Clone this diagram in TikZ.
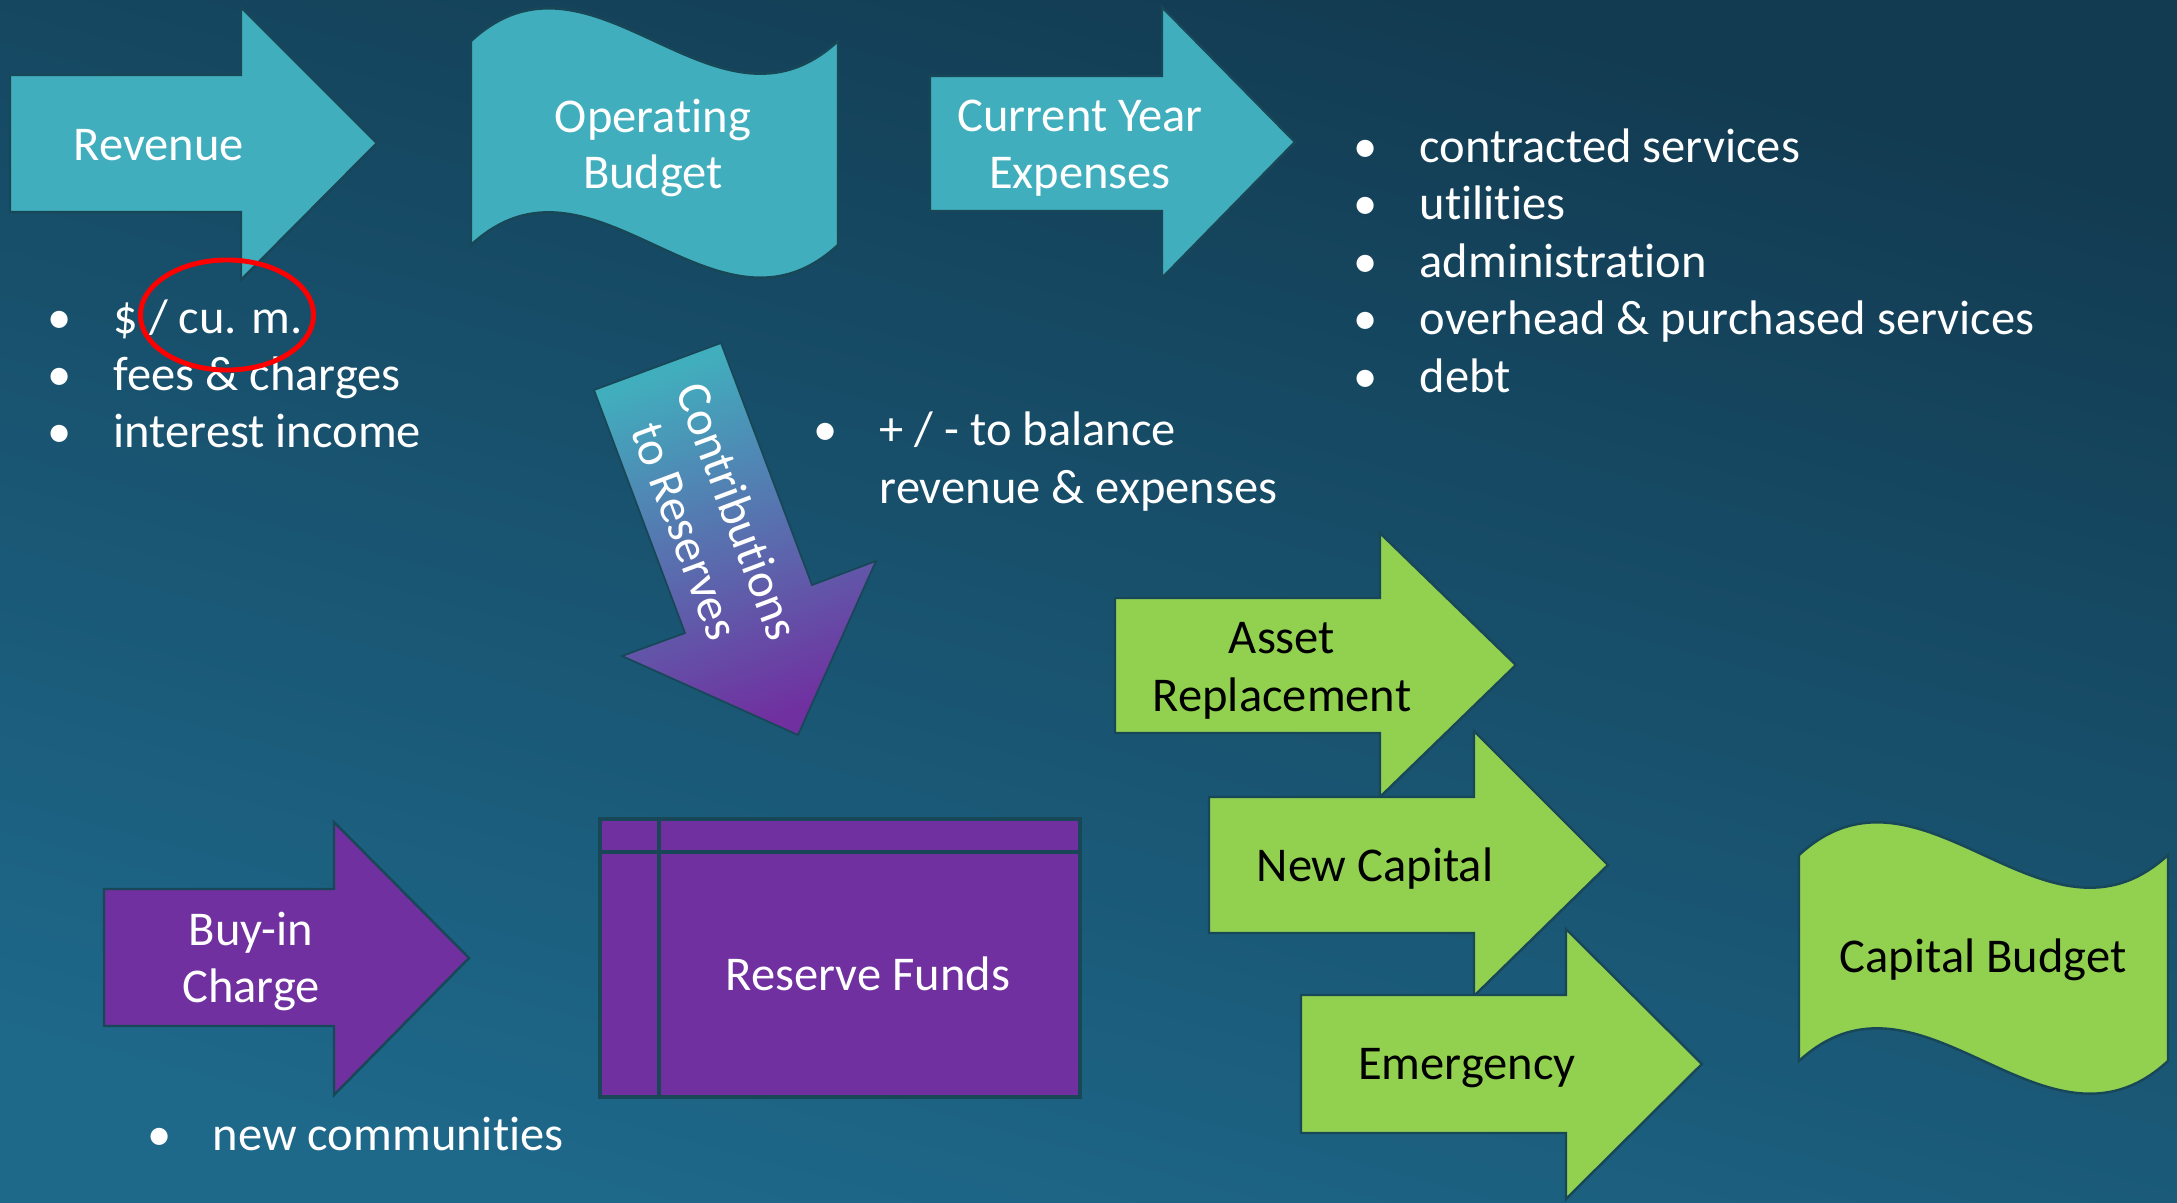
\documentclass[tikz,border=0pt]{standalone}
\usepackage{fontspec}
\setmainfont{Carlito}[Ligatures=NoCommon]
\definecolor{bgtop}{RGB}{18,58,80}
\definecolor{bgbot}{RGB}{30,104,138}
\definecolor{aquac}{RGB}{65,174,189}
\definecolor{purpc}{RGB}{112,48,160}
\definecolor{greenc}{RGB}{146,208,80}
\definecolor{edgec}{RGB}{24,72,88}
\begin{document}
\begin{tikzpicture}[x=0.01cm,y=-0.01cm,
  shp/.style={draw=edgec, line width=0.7pt, line join=miter},
  txt/.style={font=\fontsize{13.8}{16}\selectfont, inner sep=0pt, anchor=base},
  wtxt/.style={txt, text=white},
  btxt/.style={txt, text=black},
  ltxt/.style={txt, text=white, anchor=base west},
  bdot/.style={txt, text=white}]
% background
\fill[top color=bgtop, bottom color=bgbot, shading angle=-15] (0,0) rectangle (2177,1202);
\useasboundingbox (0,0) rectangle (2177,1202);

% Revenue arrow
\path[shp, fill=aquac] (10,75) -- (241,75) -- (241,7) -- (377,143) -- (241,280) -- (241,212) -- (10,212) -- cycle;
% Operating budget wave
\path[shp, fill=aquac] (471,41) .. controls (593.3,-72.3) and (715.7,154.3) .. (838,41)
  -- (838,245) .. controls (715.7,358.3) and (593.3,131.7) .. (471,245) -- cycle;
% Current year arrow
\path[shp, fill=aquac] (930,76) -- (1162,76) -- (1162,7) -- (1295,142) -- (1162,278) -- (1162,211) -- (930,211) -- cycle;

% Contributions arrow
\path[draw=edgec, line width=0.5pt, top color=aquac, bottom color=purpc, shading angle=20]
  (594,390) -- (721,343) -- (812,585) -- (876,561) -- (798,735) -- (622,656) -- (685,633) -- cycle;

% Buy-in arrow
\path[shp, fill=purpc] (104,889) -- (334,889) -- (334,822) -- (469,958) -- (334,1095) -- (334,1026) -- (104,1026) -- cycle;
% Reserve funds
\path[shp, fill=purpc, line width=0.9pt] (600,819) rectangle (1080,1097);
\draw[edgec, line width=0.9pt] (659,819) -- (659,1097);
\draw[edgec, line width=0.9pt] (600,852) -- (1080,852);

% Green arrows
\path[shp, fill=greenc] (1115,598) -- (1380,598) -- (1380,533) -- (1516,665) -- (1380,797) -- (1380,733) -- (1115,733) -- cycle;
\path[shp, fill=greenc] (1209,797) -- (1474,797) -- (1474,731) -- (1608,865) -- (1474,996) -- (1474,933) -- (1209,933) -- cycle;
\path[shp, fill=greenc] (1301,995) -- (1566,995) -- (1566,929) -- (1702,1064) -- (1566,1199) -- (1566,1133) -- (1301,1133) -- cycle;
% Capital budget wave
\path[shp, fill=greenc] (1799,855) .. controls (1922,741.7) and (2045,968.3) .. (2168,855)
  -- (2168,1061) .. controls (2045,1174.3) and (1922,947.7) .. (1799,1061) -- cycle;

% shape texts
\node[wtxt] (rev) at (159,160) {Revenue};
\node[wtxt] (op1) at (653,132) {Operating};
\node[wtxt] (op2) at (653,188) {Budget};
\node[wtxt] (cy1) at (1080,131) {Current Year};
\node[wtxt] (cy2) at (1080,188) {Expenses};
\node[txt, text=white, anchor=center, align=center, rotate=-69.5] (contrib) at (712,521) {Contributions\\to Reserves};
\node[wtxt] (buy1) at (251,945) {Buy-in};
\node[wtxt] (buy2) at (251,1002) {Charge};
\node[wtxt] (res) at (868,990) {Reserve Funds};
\node[btxt] (ar1) at (1282,653) {Asset};
\node[btxt] (ar2) at (1282,711) {Replacement};
\node[btxt] (nc) at (1375,881) {New Capital};
\node[btxt] (em) at (1467,1079) {Emergency};
\node[btxt] (cb) at (1983,972) {Capital Budget};

% left bullet list
\node[bdot] (lb1) at (60,333) {•};
\node[ltxt] (lt1) at (113,333) {\$ / cu. m.};
\node[bdot] (lb2) at (60,390) {•};
\node[ltxt] (lt2) at (113,390) {fees \& charges};
\node[bdot] (lb3) at (60,447) {•};
\node[ltxt] (lt3) at (113,447) {interest income};

% right bullet list
\node[bdot] (rb1) at (1366,162) {•};
\node[ltxt] (rt1) at (1419,162) {contracted services};
\node[bdot] (rb2) at (1366,219.5) {•};
\node[ltxt] (rt2) at (1419,219.5) {utilities};
\node[bdot] (rb3) at (1366,277) {•};
\node[ltxt] (rt3) at (1419,277) {administration};
\node[bdot] (rb4) at (1366,334.5) {•};
\node[ltxt] (rt4) at (1419,334.5) {overhead \& purchased services};
\node[bdot] (rb5) at (1366,392) {•};
\node[ltxt] (rt5) at (1419,392) {debt};

% balance bullet
\node[bdot] (mb1) at (826,445) {•};
\node[ltxt] (mt1) at (879,445) {+ / - to balance};
\node[ltxt] (mt2) at (879,503) {revenue \& expenses};

% new communities
\node[bdot] (nb1) at (160,1150) {•};
\node[ltxt] (nt1) at (212,1150) {new communities};

% red circle
\draw[red, line width=1.4pt] (227,315) ellipse [x radius=0.865cm, y radius=0.55cm];
\end{tikzpicture}
\end{document}
